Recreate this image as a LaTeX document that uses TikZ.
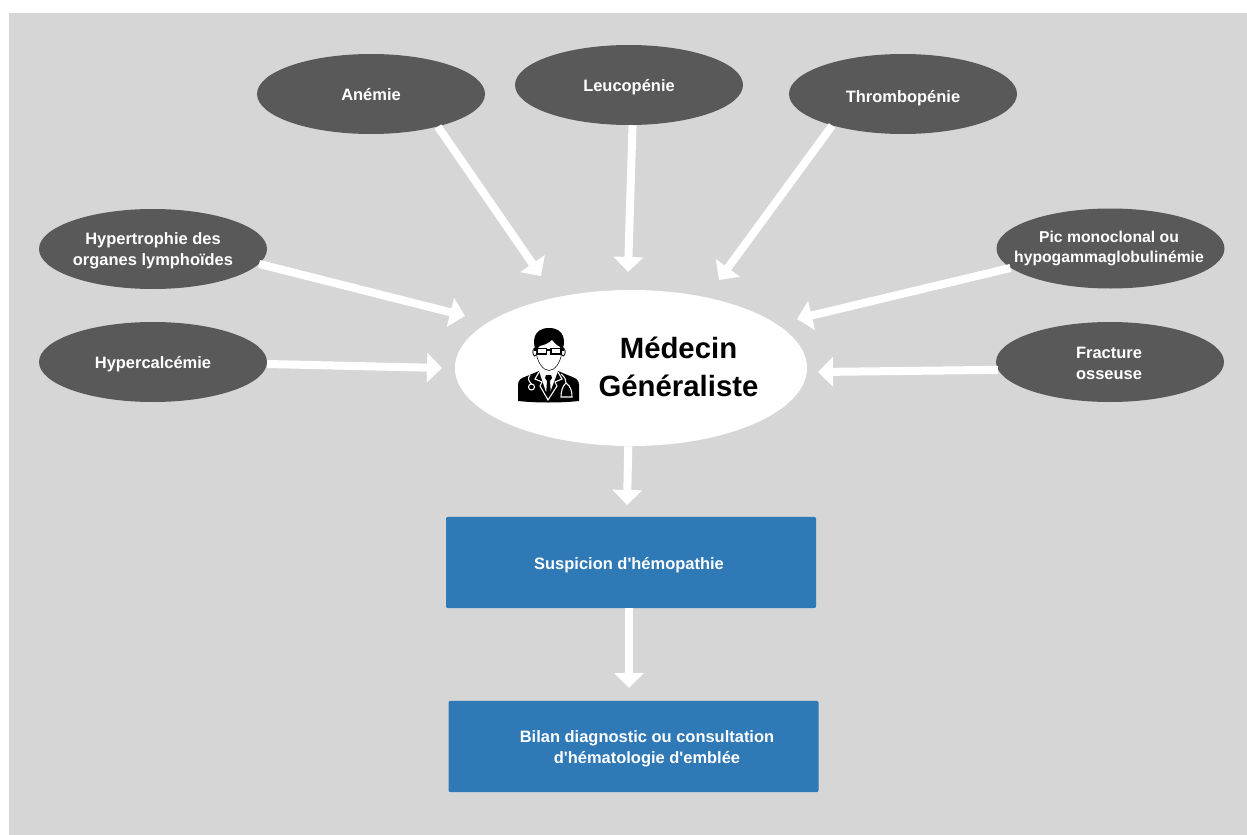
\documentclass[tikz,border=0pt]{standalone}
\usepackage{fontspec}
\setmainfont{Liberation Sans}[Ligatures=TeXOff]
\usetikzlibrary{arrows.meta,shapes.geometric}
\definecolor{bgc}{HTML}{D6D6D6}
\definecolor{darkc}{HTML}{595959}
\definecolor{bluec}{HTML}{2F79B7}
\tikzset{
  x=0.75pt,y=-0.75pt,
  darkell/.style={ellipse,fill=darkc,inner sep=0pt,minimum width=171pt,minimum height=60pt},
  mainell/.style={ellipse,fill=white,inner sep=0pt,minimum width=264pt,minimum height=117pt},
  smalllab/.style={inner sep=0pt,text=white,font=\fontsize{12.35pt}{15.75pt}\selectfont\bfseries,align=center},
  mainlab/.style={font=\fontsize{22pt}{28.5pt}\selectfont\bfseries,align=center,text=black,inner sep=0pt},
  bluebox/.style={rectangle,rounded corners=1.5pt,fill=bluec,inner sep=0pt,minimum width=277.5pt,minimum height=68.5pt},
  bigarrow/.style={draw=white,line width=6pt,-{Triangle[length=11.25pt,width=21.75pt]}},
}
\begin{document}
\begin{tikzpicture}
\useasboundingbox (0,0) rectangle (1247,835);
\fill[bgc] (9,13) rectangle (1247,835);
% connectors' free ends
\coordinate (tA) at (541,276);
\coordinate (tL) at (628,272);
\coordinate (tT) at (719,280);
\coordinate (tH) at (465,316);
\coordinate (tC) at (442,368);
\coordinate (tP) at (797,319);
\coordinate (tF) at (818,372);
\coordinate (tS) at (627,505);
\coordinate (tB) at (629,688);
% nodes
\node[mainell] (med) at (631,368) {};
\node[darkell] (ane) at (371,94) {};
\node[darkell] (leu) at (629,85) {};
\node[darkell] (thr) at (903,94) {};
\node[darkell] (hyp) at (153,249) {};
\node[darkell] (cal) at (153,362) {};
\node[darkell] (pic) at (1110.5,248.5) {};
\node[darkell] (fra) at (1110,362) {};
\node[bluebox] (sus) at (631,562.5) {};
\node[bluebox] (bil) at (633.5,746.5) {};
% connectors
\draw[bigarrow] (ane.-26.9) -- (tA);
\draw[bigarrow] (leu.-85.8) -- (tL);
\draw[bigarrow] (thr.-156.2) -- (tT);
\draw[bigarrow] (hyp.-8.7) -- (tH);
\draw[bigarrow] (cal.-1.5) -- (tC);
\draw[bigarrow] (pic.-169.3) -- (tP);
\draw[bigarrow] (fra.-176.5) -- (tF);
\draw[bigarrow] (med.-92.2) -- (tS);
\draw[bigarrow] ([xshift=-1.5pt]sus.south) -- (tB);
% labels
\node[smalllab] (aneT) at (371,95) {Anémie};
\node[smalllab] (leuT) at (629,87.5) {Leucopénie};
\node[smalllab] (thrT) at (903,98) {Thrombopénie};
\node[smalllab] (hypT) at (153,251) {Hypertrophie des\\organes lymphoïdes};
\node[smalllab] (calT) at (153,364) {Hypercalcémie};
\node[smalllab,font=\fontsize{11.8pt}{15pt}\selectfont\bfseries] (picT) at (1109,248.5) {Pic monoclonal ou\\hypogammaglobulinémie};
\node[smalllab] (fraT) at (1109,363) {Fracture\\osseuse};
\node[smalllab] (susT) at (629,565) {Suspicion d'hémopathie};
\node[smalllab] (bilT) at (647,749) {Bilan diagnostic ou consultation\\d'hématologie d'emblée};
\node[mainlab] (mlab) at (678.5,367) {Médecin\\Généraliste};
% doctor icon
\begin{scope}
\fill[black] (518,401) -- (518,385) .. controls (518,380) and (521,378) .. (527,376) -- (539,371) -- (558,371) -- (570,376) .. controls (576,378) and (579,380) .. (579,385) -- (579,401) .. controls (560,403) and (537,403) .. (518,401) -- cycle;
\fill[white] (539,371) -- (548,398) -- (558,371) -- (553,365) -- (544,365) -- cycle;
\fill[black] (546,375) -- (551,375) -- (552,378) -- (550,381) -- (551,395) -- (548.5,398) -- (546,395) -- (547,381) -- (545,378) -- cycle;
\draw[white,line width=0.8pt] (539,372) -- (535,379) -- (542,382) -- (540,386) -- (548,400) -- (557,386) -- (555,382) -- (562,379) -- (558,372);
\draw[white,line width=0.8pt] (530,375) .. controls (527,379) and (529,381) .. (531.5,384);
\draw[white,line width=0.8pt] (531.5,387) circle (3);
\draw[white,line width=0.8pt] (561,374) .. controls (565,377) and (566,380) .. (566,383) .. controls (562,386) and (561,393) .. (561,397) -- (572,397) .. controls (572,392) and (571,386) .. (566,383);
\filldraw[fill=white,draw=black,line width=0.6pt] (534.8,352) ellipse (2 and 4);
\filldraw[fill=white,draw=black,line width=0.6pt] (563.2,352) ellipse (2 and 4);
\fill[black] (536,351) .. controls (532,342) and (533,328) .. (549,328) .. controls (565,328) and (566,342) .. (562,351) -- cycle;
\fill[white] (537,352) .. controls (537,349) and (538,347) .. (540,346) .. controls (545,345) and (549,343) .. (552,340) .. controls (555,344) and (558,346) .. (560,347) .. controls (561,349) and (561,350) .. (561,352) .. controls (561,362) and (555,370) .. (549,370) .. controls (543,370) and (537,362) .. (537,352) -- cycle;
\draw[black,line width=0.4pt] (536.5,354) .. controls (537.5,362) and (543,370.5) .. (549,370.5) .. controls (555,370.5) and (560.5,362) .. (561.5,354);
\draw[black,line width=0.9pt] (537.5,348.5) rectangle (546.5,354);
\draw[black,line width=0.9pt] (551,348.5) rectangle (561,354);
\draw[black,line width=0.9pt] (546.5,350) -- (551,350);
\draw[black,line width=0.9pt] (534,350) -- (537.5,350) (561,350) -- (564,350);
\end{scope}
\end{tikzpicture}
\end{document}
